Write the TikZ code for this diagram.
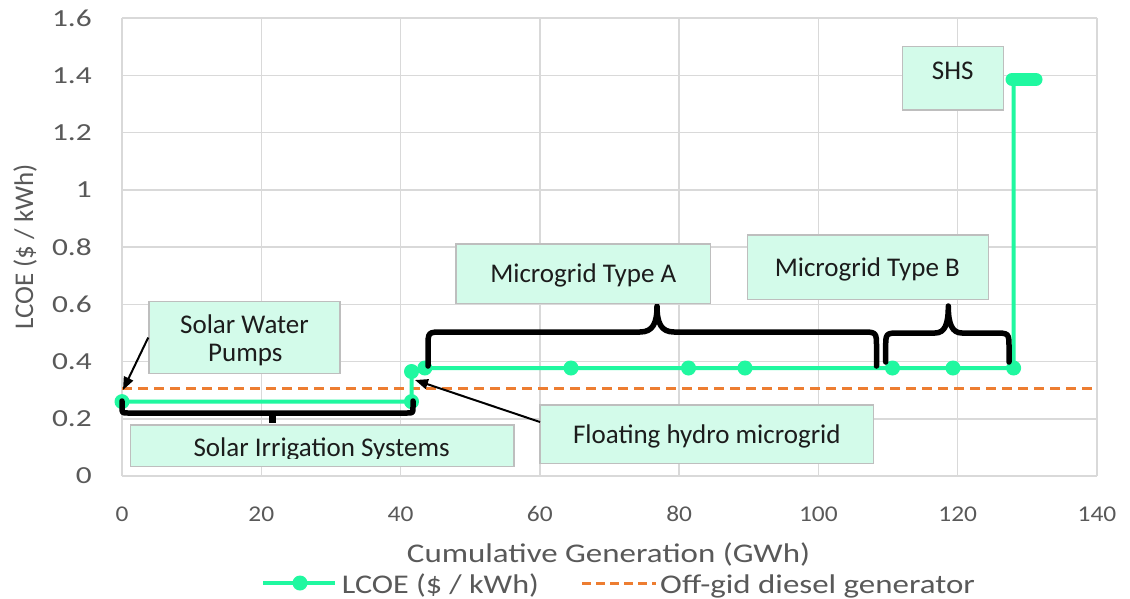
\documentclass[tikz,border=0pt]{standalone}
\usepackage{fontspec}
\setmainfont{Carlito}
\newfontfamily\fxtitle[FakeStretch=1.22]{Carlito}
\newfontfamily\fleg[FakeStretch=1.19]{Carlito}
\newfontfamily\fytick[FakeStretch=1.28]{Carlito}
\newfontfamily\fxtick[FakeStretch=1.13]{Carlito}
\usetikzlibrary{arrows.meta}
\definecolor{lgreen}{RGB}{32,248,160}
\definecolor{dorange}{RGB}{237,125,49}
\definecolor{boxfill}{RGB}{211,251,234}
\definecolor{boxline}{RGB}{190,190,190}
\definecolor{gridc}{RGB}{217,217,217}
\definecolor{axtext}{RGB}{89,89,89}
\definecolor{boxtext}{RGB}{28,28,28}
\begin{document}
\begin{tikzpicture}[x=1pt,y=-1pt,
 gridline/.style={draw=gridc,line width=1.5pt},
 serie/.style={draw=lgreen,line width=4pt,line join=round},
 dot/.style={circle,fill=lgreen,inner sep=0pt,minimum size=15pt},
 diesel/.style={draw=dorange,line width=3pt,dash pattern=on 10pt off 6pt},
 brace/.style={draw=black,line width=5.5pt,line join=round,line cap=round},
 labelbox/.style={draw=boxline,line width=1.5pt,fill=boxfill,inner sep=0pt},
 boxtxt/.style={text=boxtext,font=\fontsize{27}{28}\selectfont,inner sep=0pt,anchor=base},
 ytick/.style={text=axtext,font=\fytick\fontsize{24.5}{25}\selectfont,inner sep=0pt},
 xtick/.style={text=axtext,font=\fxtick\fontsize{22.5}{24}\selectfont,inner sep=0pt},
 axlabel/.style={text=axtext,font=\fontsize{27}{28}\selectfont,inner sep=0pt},
 pointer/.style={draw=black,line width=2pt,-{Triangle[length=13pt,width=10pt]}}]

\useasboundingbox (0,0) rectangle (1130,598);
\fill[white] (0,0) rectangle (1130,598);

% grid
\foreach \k in {0,...,7} \draw[gridline] ({122+139.286*\k},18) -- ({122+139.286*\k},476);
\foreach \k in {0,...,8} \draw[gridline] (122,{476-57.25*\k}) -- (1097,{476-57.25*\k});

% tick labels
\foreach \k/\t in {0/0,1/20,2/40,3/60,4/80,5/100,6/120,7/140}
  \node[xtick,anchor=base] (xt\k) at ({122+139.286*\k},521) {\t};
\foreach \k/\t in {0/0,1/0.2,2/0.4,3/0.6,4/0.8,5/1,6/1.2,7/1.4,8/1.6}
  \node[ytick,anchor=east] (yt\k) at (92,{476-57.25*\k}) {\t};

% axis titles
\node[axlabel,font=\fxtitle\fontsize{27}{28}\selectfont,anchor=base] (xtitle) at (608.5,562) {Cumulative Generation (GWh)};
\node[axlabel,anchor=base,rotate=90] (ytitle) at (33,247) {LCOE (\$ / kWh)};

% diesel line
\coordinate (d0) at (122,388);
\coordinate (d1) at (1097,388);
\draw[diesel] (d0) -- (d1);

% LCOE series
\coordinate (p1) at (122,401.6);
\coordinate (p2) at (411.5,401.6);
\coordinate (p3) at (411.5,371.5);
\coordinate (p4) at (424.8,368);
\coordinate (p5) at (571,368);
\coordinate (p6) at (688.5,368);
\coordinate (p7) at (745,368);
\coordinate (p8) at (892.5,368);
\coordinate (p9) at (953,368);
\coordinate (p10) at (1013.6,368);
\coordinate (p11) at (1013.6,79.5);
\coordinate (p12) at (1036,79.5);
\draw[serie] (p1) -- (p2) -- (p3) -- (p4) -- (p5) -- (p6) -- (p7) -- (p8) -- (p9) -- (p10) -- (p11);
\draw[lgreen,line width=13pt,line cap=round] (1012,79.5) -- (p12);
\foreach \i in {1,...,10} \node[dot] (m\i) at (p\i) {};

% braces
\draw[brace] (122,401) -- (122,407) .. controls (122,413) .. (128,413) -- (407,413)
  .. controls (413,413) .. (413,407) -- (413,401);
\draw[black,line width=7pt] (272.7,413) -- (272.7,423);
\draw[brace] (428,366) -- (428,347) .. controls (428,332) .. (443,332) -- (640,332)
  .. controls (653,332) and (657,323) .. (657,306)
  .. controls (657,323) and (661,332) .. (674,332) -- (861,332)
  .. controls (876.5,332) .. (876.5,347) -- (876.5,366);
\draw[brace] (885.7,362) -- (885.7,348) .. controls (885.7,333) .. (900,333) -- (935,333)
  .. controls (945,333) and (948.3,324) .. (948.3,306)
  .. controls (948.3,324) and (952,333) .. (962,333) -- (994,333)
  .. controls (1009,333) .. (1009,348) -- (1009,362);

% label boxes
\node[labelbox,minimum width=191pt,minimum height=71.6pt] (swp) at (244.5,337.5) {};
\node[boxtxt] (swpt1) at (244.5,333.3) {Solar Water};
\node[boxtxt] (swpt2) at (245.3,361.7) {Pumps};

\node[labelbox,minimum width=383.3pt,minimum height=41.7pt] (sis) at (322.3,445.8) {};
\begin{scope}
  \clip (131.5,426) rectangle (513,458);
  \node[boxtxt] (sist) at (321.7,456.5) {Solar Irrigation Systems};
\end{scope}

\node[labelbox,minimum width=333.3pt,minimum height=58.3pt] (fhm) at (706.7,434.2) {};
\node[boxtxt] (fhmt) at (706.8,443.3) {Floating hydro microgrid};

\node[labelbox,minimum width=254.7pt,minimum height=59.3pt] (mta) at (583.3,273.7) {};
\node[boxtxt] (mtat) at (583.3,282.7) {Microgrid Type A};

\node[labelbox,minimum width=241pt,minimum height=64.3pt] (mtb) at (867.8,267.2) {};
\node[boxtxt] (mtbt) at (867.3,276) {Microgrid Type B};

\node[labelbox,minimum width=100.6pt,minimum height=63.3pt] (shs) at (953,78.3) {};
\node[boxtxt] (shst) at (952.7,79.3) {SHS};

% pointers
\coordinate (a1e) at (123,390);
\coordinate (a2s) at (540,422);
\coordinate (a2e) at (415,380);
\draw[pointer] (swp.west) -- (a1e);
\draw[pointer] (a2s) -- (a2e);

% legend
\coordinate (l1a) at (263,583);
\coordinate (l1b) at (335,583);
\draw[serie] (l1a) -- (l1b);
\node[dot] (l1m) at (300,583) {};
\node[axlabel,font=\fleg\fontsize{27}{28}\selectfont,anchor=base west] (l1t) at (341.7,593) {LCOE (\$ / kWh)};
\coordinate (l2a) at (582,583);
\coordinate (l2b) at (656,583);
\draw[diesel,dash pattern=on 9pt off 5pt] (l2a) -- (l2b);
\node[axlabel,font=\fxtitle\fontsize{27}{28}\selectfont,anchor=base west] (l2t) at (660,593) {Off-gid diesel generator};
\end{tikzpicture}
\end{document}
